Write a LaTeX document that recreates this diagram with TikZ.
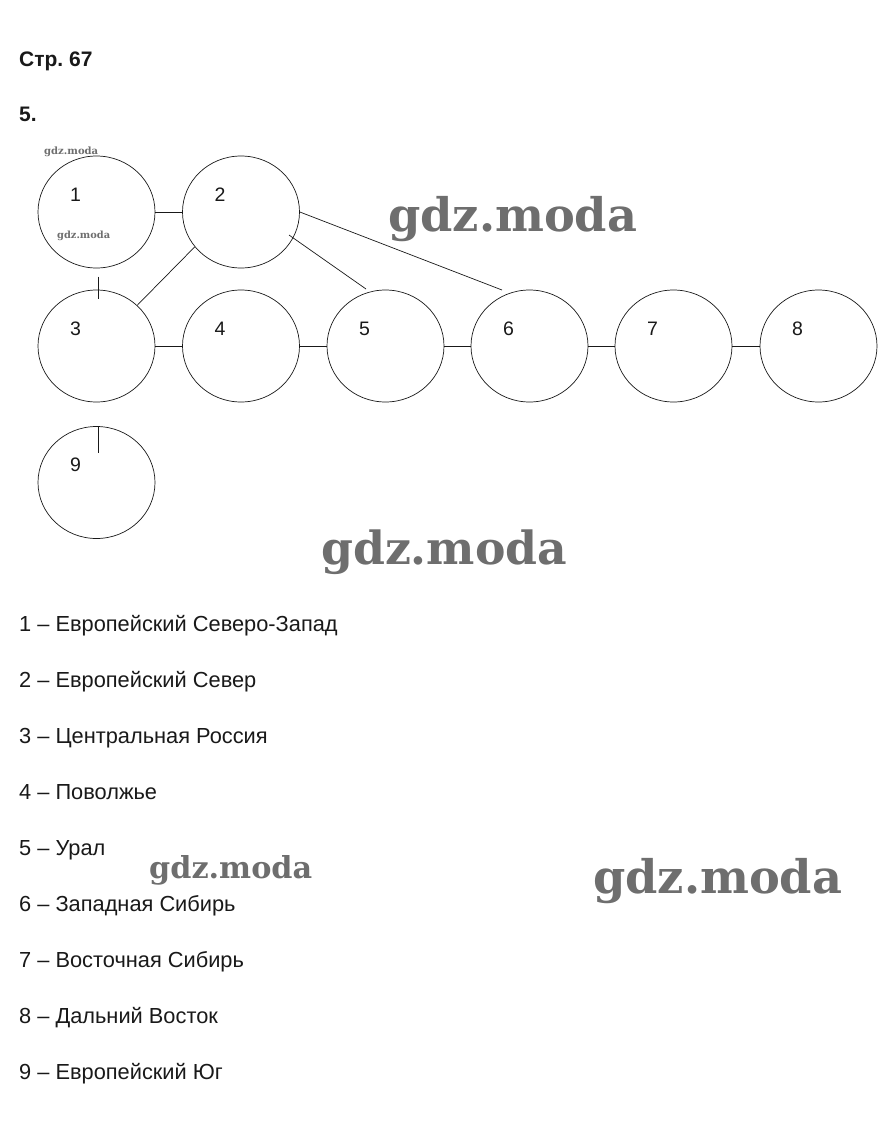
\documentclass[tikz,border=0pt]{standalone}
\usepackage{fontspec}
\usepackage{graphicx}
\setmainfont{Liberation Sans}
\newfontfamily\wmfont{DejaVu Serif}
\usetikzlibrary{shapes.geometric,calc}
\definecolor{wmgray}{RGB}{110,110,110}
\definecolor{ink}{RGB}{25,25,25}
\frenchspacing
\tikzset{
  region/.style={ellipse,draw=ink,line width=0.7pt,minimum width=117pt,minimum height=112pt,inner sep=0pt},
  link/.style={draw=ink,line width=0.7pt},
  numlbl/.style={anchor=base,inner sep=0pt,font=\fontsize{19.5}{22}\selectfont,text=ink},
  legend/.style={anchor=base west,inner sep=0pt,font=\fontsize{21.8}{25}\selectfont,text=ink},
  heading/.style={anchor=base west,inner sep=0pt,font=\fontsize{21}{25}\selectfont\bfseries,text=ink},
  wm/.style={anchor=base west,inner sep=0pt,text=wmgray}
}
\newcommand{\wmtext}[1]{\resizebox{#1}{!}{\wmfont\bfseries gdz.moda}}
\begin{document}
\begin{tikzpicture}[x=1pt,y=-1pt]
\useasboundingbox[fill=white] (0,0) rectangle (889,1133);
% headings
\node[heading] (h1) at (19,66) {Стр. 67};
\node[heading] (h2) at (19,121) {5.};
% watermarks
\node[wm] (w1) at (388,231) {\wmtext{249pt}};
\node[wm] (w2) at (321,564) {\wmtext{246pt}};
\node[wm] (w3) at (149,878) {\wmtext{163pt}};
\node[wm] (w4) at (593,893) {\wmtext{249pt}};
\node[wm] (w5) at (44,154) {\wmtext{54pt}};
\node[wm] (w6) at (57,238) {\wmtext{53pt}};
% regions
\node[region] (n1) at (96.5,212) {};
\node[region] (n2) at (241,212) {};
\node[region] (n3) at (96.5,346) {};
\node[region] (n4) at (241,346) {};
\node[region] (n5) at (385.5,346) {};
\node[region] (n6) at (529.5,346) {};
\node[region] (n7) at (673.5,346) {};
\node[region] (n8) at (818.5,346) {};
\node[region] (n9) at (96.5,482.5) {};
% labels
\foreach \i in {1,...,9}{
  \node[numlbl] (l\i) at ($(n\i.center)+(-21,-11)$) {\i};
}
% connectors
\draw[link] (n1.east) -- (n2.west);
\draw[link] (n3.east) -- (n4.west);
\draw[link] (n4.east) -- (n5.west);
\draw[link] (n5.east) -- (n6.west);
\draw[link] (n6.east) -- (n7.west);
\draw[link] (n7.east) -- (n8.west);
\draw[link] (n3.45) -- (n2.217);
\draw[link] ($(n2.center)+(48,23)$) -- ($(n5.center)+(-19.5,-57)$);
\draw[link] (n2.east) -- ($(n6.center)+(-27.5,-56)$);
\draw[link] ($(n3.north)+(1.5,-13)$) -- ($(n3.north)+(1.5,9)$);
\draw[link] ($(n9.north)+(1.5,0)$) -- ($(n9.north)+(1.5,27)$);
% legend
\node[legend] (t1) at (19,631) {1 – Европейский Северо-Запад};
\node[legend] (t2) at (19,687) {2 – Европейский Север};
\node[legend] (t3) at (19,743) {3 – Центральная Россия};
\node[legend] (t4) at (19,799) {4 – Поволжье};
\node[legend] (t5) at (19,855) {5 – Урал};
\node[legend] (t6) at (19,911) {6 – Западная Сибирь};
\node[legend] (t7) at (19,967) {7 – Восточная Сибирь};
\node[legend] (t8) at (19,1023) {8 – Дальний Восток};
\node[legend] (t9) at (19,1079) {9 – Европейский Юг};
\end{tikzpicture}
\end{document}
